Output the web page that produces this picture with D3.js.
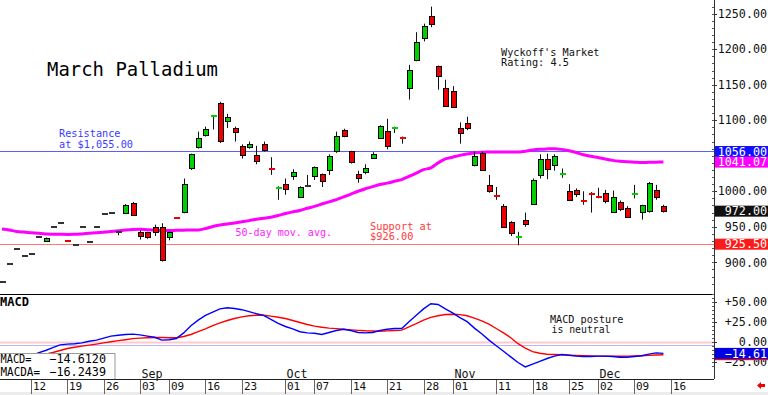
<!DOCTYPE html>
<html>
<head>
<meta charset="utf-8">
<script src="https://cdn.jsdelivr.net/npm/d3@7"></script>
<style>
  body { margin: 0; background: #fff; }
  text { font-family: "DejaVu Sans Mono", monospace; }
</style>
</head>
<body>
<svg id="chart" width="768" height="395"></svg>
<script>
// trading days (x categories), last 5 are empty room on the right
var dates = [
  "08-06","08-07","08-08","08-09",
  "08-12","08-13","08-14","08-15","08-16",
  "08-19","08-20","08-21","08-22","08-23",
  "08-26","08-27","08-28","08-29","08-30",
  "09-03","09-04","09-05","09-06",
  "09-09","09-10","09-11","09-12","09-13",
  "09-16","09-17","09-18","09-19","09-20",
  "09-23","09-24","09-25","09-26","09-27",
  "09-30","10-01","10-02","10-03","10-04",
  "10-07","10-08","10-09","10-10","10-11",
  "10-14","10-15","10-16","10-17","10-18",
  "10-21","10-22","10-23","10-24","10-25",
  "10-28","10-29","10-30","10-31","11-01",
  "11-04","11-05","11-06","11-07","11-08",
  "11-11","11-12","11-13","11-14","11-15",
  "11-18","11-19","11-20","11-21","11-22",
  "11-25","11-26","11-27","11-29",
  "12-02","12-03","12-04","12-05","12-06",
  "12-09","12-10","12-11","12-12","12-13",
  "12-16","12-17","12-18","12-19","12-20"
];

// daily prices, Aug 06 .. Dec 13
var opens = [
  872, 897.5, 919, 909, 912, 936, 929.5, 949, 955, 931,
  924, 949, 928.5, 950, 967.5, 969, 943, 969, 984, 943,
  942, 950, 950, 935, 963, 971, 1032, 1063, 1079, 1106,
  1124, 1098, 1089, 1064, 1063, 1051, 1066, 1032, 1004, 1010,
  1022, 992, 1007, 1022, 1024, 1029, 1057, 1086, 1056, 1025,
  1027, 1047, 1075, 1085, 1088, 1076, 1145, 1184, 1216, 1247,
  1176, 1145, 1141, 1089, 1096, 1038, 1054, 1009, 994, 979,
  957, 934, 959, 982, 1022, 1046, 1037, 1023, 1001, 1002,
  988, 998, 993, 998, 971, 985, 977, 995, 970, 971,
  1002, 979
];
var highs = [
  872, 897.5, 919, 909, 912, 936, 935, 949, 955, 931,
  924, 949, 928.5, 950, 967.5, 969, 943, 982, 985, 945,
  943, 953, 955, 943, 963.5, 1018, 1053, 1084, 1091, 1107,
  1126, 1109, 1091, 1066, 1070, 1064, 1070, 1048, 1007, 1018,
  1031, 1007, 1023, 1035, 1025, 1052, 1084, 1088, 1057, 1029,
  1038, 1055, 1093, 1102, 1091, 1077, 1178, 1224, 1236, 1260,
  1177, 1157, 1148, 1097, 1105, 1056, 1056, 1023, 1006, 982,
  958, 943, 970, 1018, 1052, 1053, 1052, 1032, 1010, 1004,
  1000, 999, 1005, 1002, 1001, 987, 979, 1009, 981, 1013,
  1009, 981
];
var lows = [
  872, 897.5, 919, 909, 912, 936, 929, 949, 955, 930,
  924, 949, 928.5, 950, 967.5, 969, 938, 968, 966, 932,
  933, 937, 901, 931, 962, 969, 1030, 1060, 1077, 1087,
  1068, 1089, 1070, 1046, 1060, 1038, 1056, 1023, 988, 995,
  1016, 991, 1006, 1016, 1006, 1023, 1054, 1076, 1039, 1012,
  1024, 1046, 1074, 1059, 1082, 1067, 1129, 1183, 1211, 1231,
  1143, 1120, 1118, 1067, 1086, 1035, 1029, 998, 988, 949,
  937, 924, 950, 981, 1018, 1017, 1029, 1019, 987, 992,
  981, 970, 990, 983, 970, 972, 963, 990, 960, 970,
  988, 970
];
var closes = [
  872, 897.5, 919, 909, 912, 936, 934, 949, 955, 930,
  924, 949, 928.5, 950, 967.5, 969, 943, 980.5, 966.5, 937.5,
  935, 943, 904, 942, 962, 1010, 1052, 1075, 1087, 1107,
  1071, 1104, 1084, 1051, 1067, 1043, 1058, 1030, 1006, 1003,
  1027, 1006, 1007, 1034, 1014, 1049, 1078, 1078, 1040, 1020,
  1033, 1053, 1092, 1064, 1090, 1074, 1171, 1210, 1233, 1236,
  1162, 1120, 1119, 1082, 1089, 1050, 1030, 1001, 992, 950,
  941, 936, 954, 1016, 1045, 1032, 1050, 1025, 989, 996,
  986, 995, 992, 987, 992, 975, 965, 997, 980, 1011,
  992, 972
];
var ma50 = [
  947, 945.5, 943.5, 942.5, 941.7, 940.8, 939.8, 939.5, 939.4, 939.3,
  939.4, 940, 940.8, 941.5, 942.3, 943.2, 944.3, 945.5, 946.3, 946.5,
  946, 945.5, 944.8, 944.8, 945, 945.2, 945.5, 945.6, 947.5, 950.5,
  952.5, 954, 955.2, 957, 958.7, 960.5, 962, 963.5, 966, 968.6,
  971, 973, 976, 978.8, 982, 985, 988.3, 992, 996, 1000,
  1003.5, 1006.5, 1009.5, 1011.5, 1014, 1016.5, 1021, 1025.5, 1030.5, 1033,
  1040, 1045.5, 1048, 1050.5, 1052.6, 1054, 1055, 1055.2, 1055.3, 1055.3,
  1055.2, 1055.2, 1056.5, 1058, 1059, 1059.6, 1060, 1059, 1057, 1054.5,
  1051.5, 1049.2, 1047.5, 1045.5, 1043.5, 1042.3, 1041.5, 1041, 1040.5, 1040.8,
  1041, 1041.07
];
var macd = [
  -32, -28, -24, -21, -18, -14, -11, -7.5, -4, -3,
  -2.5, -1.5, 0.5, 2, 4.5, 7, 8, 9, 9.5, 8.5,
  7, 5.5, 2, 2.5, 4, 11, 20, 27, 33, 37,
  41, 42.5, 41.5, 40, 37.5, 35, 33, 28, 23, 19,
  16, 12.5, 11, 10.5, 9, 11.5, 14, 15.5, 14, 11.5,
  11, 11.5, 14, 15.5, 16.5, 16.5, 25, 33, 41, 47.5,
  46.5, 41, 36, 30, 25, 17, 10, 2, -5, -12,
  -19, -26, -31.5, -28, -24.5, -21, -18, -16, -17, -18,
  -18.5, -18.5, -18, -18, -18.5, -19.5, -19.5, -18.5, -17.5, -15.5,
  -14, -14.612
];
var signal = [
  -30, -27, -24, -21.5, -19, -17, -15.5, -13.5, -11, -8.5,
  -7, -5.5, -4.3, -3, -1.5, 0, 1.3, 2.5, 3.8, 4.5,
  5, 5.3, 5.2, 5, 5, 6.5, 9, 12.5, 16, 20,
  23.5, 26.5, 29, 31, 32.5, 33, 33, 32, 30.5, 29,
  26.5, 24, 21.5, 19.5, 18, 17, 16.3, 15.5, 14.8, 14.2,
  13.6, 13.3, 13.1, 13.5, 14, 14.5, 18.5, 22.5, 27, 30.5,
  32.5, 34, 34.4, 33.8, 32.4, 29.5, 26, 22, 16.5, 11,
  5, -2.5, -8, -12.5, -14.5, -15.6, -16, -16.4, -16.8, -17.2,
  -17.5, -17.8, -18, -18.1, -18.1, -18.1, -18, -17.8, -17.5, -17.1,
  -16.7, -16.2439
];

var resistanceLevel = 1056;
var supportLevel = 925.5;

var priceTicks = [900, 950, 1000, 1050, 1100, 1150, 1200, 1250];
var macdTicks = [-25, 0, 25, 50];
var tickDates = ["08-12","08-19","08-26","09-03","09-09","09-16","09-23","10-01","10-07",
                 "10-14","10-21","10-28","11-01","11-11","11-18","11-25","12-02","12-09","12-16"];
var tickLabels = ["12","19","26","03","09","16","23","01","07",
                  "14","21","28","01","11","18","25","02","09","16"];
var monthDates = ["09-03","10-01","11-01","12-02"];
var monthNames = ["Sep","Oct","Nov","Dec"];

var svg = d3.select("#chart");
var plotRight = 714;

// scales
var x = d3.scalePoint().domain(dates).range([1.92, 699.77]);
var y = d3.scaleLinear().domain([900, 1250]).range([262.3, 13.7]);
var yM = d3.scaleLinear().domain([-25, 50]).range([361.7, 301.7]);

var defs = svg.append("defs");
defs.append("clipPath").attr("id", "clipP").append("rect")
    .attr("x", 0).attr("y", 0).attr("width", plotRight).attr("height", 294);
defs.append("clipPath").attr("id", "clipM").append("rect")
    .attr("x", 0).attr("y", 295).attr("width", plotRight).attr("height", 84);

svg.append("rect").attr("x", 0).attr("y", 392).attr("width", 768).attr("height", 3).attr("fill", "#ececec");

var bars = closes.map(function (c, i) {
    return { date: dates[i], o: opens[i], h: highs[i], l: lows[i], c: c, ma: ma50[i], m: macd[i], s: signal[i] };
});

// ---------- price panel ----------
var gp = svg.append("g").attr("clip-path", "url(#clipP)");

function hline(g, v, scale, color, w) {
    var yy = Math.round(scale(v)) + 0.5;
    g.append("line").attr("x1", 0).attr("x2", plotRight).attr("y1", yy).attr("y2", yy)
        .attr("stroke", color).attr("stroke-width", w);
}
hline(gp, resistanceLevel, y, "#5c5cff", 1);
hline(gp, supportLevel, y, "#ff7878", 1);

gp.append("path").datum(bars)
    .attr("fill", "none").attr("stroke", "#ff00ff").attr("stroke-width", 3)
    .attr("d", d3.line().x(function (d) { return x(d.date); }).y(function (d) { return y(d.ma); })
        .curve(d3.curveMonotoneX));

function cx(d) { return Math.round(x(d.date)); }
function barColor(d) { return d.c > d.o ? "#00d000" : (d.c < d.o ? "#ee0000" : "#333"); }

gp.selectAll("line.wick").data(bars.filter(function (d) { return d.h > d.l; }))
    .enter().append("line").attr("class", "wick")
    .attr("x1", function (d) { return cx(d) + 0.5; }).attr("x2", function (d) { return cx(d) + 0.5; })
    .attr("y1", function (d) { return y(d.h); }).attr("y2", function (d) { return y(d.l); })
    .attr("stroke", "#111").attr("stroke-width", 1);

gp.selectAll("rect.body").data(bars).enter().append("rect").attr("class", "body")
    .each(function (d) {
        var top = y(Math.max(d.o, d.c)), bot = y(Math.min(d.o, d.c));
        var r = d3.select(this).attr("fill", barColor(d));
        if (bot - top < 2.5) {
            r.attr("x", cx(d) - 2).attr("y", Math.round((top + bot) / 2) - 1)
             .attr("width", 6).attr("height", 2);
        } else {
            r.attr("x", cx(d) - 2 + 0.5).attr("y", Math.round(top) + 0.5)
             .attr("width", 5).attr("height", Math.round(bot - top))
             .attr("stroke", "#000").attr("stroke-width", 1);
        }
    });

// annotations
function label(t, xx, yy, size, color, len) {
    var el = svg.append("text").attr("x", xx).attr("y", yy).attr("font-size", size)
        .attr("fill", color).text(t);
    if (len) el.attr("textLength", len).attr("lengthAdjust", "spacingAndGlyphs");
    return el;
}
label("March Palladium", 47, 76, 19, "#000", 171);
label("Resistance", 59, 137, 10.2, "#3a3aff", 61.5);
label("at $1,055.00", 59, 147.5, 10.2, "#3a3aff", 74);
label("50-day mov. avg.", 235.5, 235.5, 10.2, "#ff22ff", 96.5);
label("Support at", 370, 230, 10.2, "#ff3a3a", 62);
label("$926.00", 370, 240, 10.2, "#ff3a3a", 43.5);
label("Wyckoff's Market", 501, 55.5, 10.2, "#111", 98.5);
label("Rating: 4.5", 501, 66, 10.2, "#111", 68);

// ---------- MACD panel ----------
var gm = svg.append("g").attr("clip-path", "url(#clipM)");
hline(gm, 0, yM, "#ffcaca", 2);
hline(gm, -4.5, yM, "#b4b4ff", 1);

gm.append("path").datum(bars)
    .attr("fill", "none").attr("stroke", "#ff0000").attr("stroke-width", 1.4)
    .attr("d", d3.line().x(function (d) { return x(d.date); }).y(function (d) { return yM(d.s); }));
gm.append("path").datum(bars)
    .attr("fill", "none").attr("stroke", "#0000ff").attr("stroke-width", 1.4)
    .attr("d", d3.line().x(function (d) { return x(d.date); }).y(function (d) { return yM(d.m); }));

svg.append("text").attr("x", 0).attr("y", 305.5).attr("font-size", 12).attr("font-weight", "bold")
    .attr("fill", "#000").text("MACD");
label("MACD posture", 550, 323.3, 10.2, "#111", 73.5);
label("is neutral", 551.5, 333.3, 10.2, "#111", 59);

// month labels inside the MACD panel
monthNames.forEach(function (m, i) {
    label(m, Math.round(x(monthDates[i])) + 1.5, 377.5, 11.7, "#111");
});

// MACD value box
svg.append("rect").attr("x", -1).attr("y", 353.5).attr("width", 116).attr("height", 26)
    .attr("fill", "#fff").attr("stroke", "#999");
var f4 = d3.format(".4f");
label("MACD=", 0.5, 363.2, 11.7, "#000", 31);
label(f4(macd[macd.length - 1]), 49.3, 363.2, 11.7, "#000", 56.7);
label("MACDA=", 0.5, 376.3, 11.7, "#000", 39.5);
label(f4(signal[signal.length - 1]), 49.3, 376.3, 11.7, "#000", 56.7);

// panel borders
svg.append("line").attr("x1", 0).attr("x2", plotRight).attr("y1", 294.5).attr("y2", 294.5).attr("stroke", "#000");
svg.append("line").attr("x1", 0).attr("x2", plotRight).attr("y1", 379.5).attr("y2", 379.5).attr("stroke", "#222");
svg.append("line").attr("x1", plotRight + 0.5).attr("x2", plotRight + 0.5).attr("y1", 0).attr("y2", 379)
    .attr("stroke", "#333");

// ---------- right axes ----------
var minor = d3.range(870, 1271, 10);
svg.selectAll("line.pminor").data(minor).enter().append("line")
    .attr("x1", plotRight - 2).attr("x2", plotRight)
    .attr("y1", function (d) { return Math.round(y(d)) + 0.5; })
    .attr("y2", function (d) { return Math.round(y(d)) + 0.5; })
    .attr("stroke", "#555");
var mminor = d3.range(-30, 61, 5);
svg.selectAll("line.mminor").data(mminor).enter().append("line")
    .attr("x1", plotRight - 2).attr("x2", plotRight)
    .attr("y1", function (d) { return Math.round(yM(d)) + 0.5; })
    .attr("y2", function (d) { return Math.round(yM(d)) + 0.5; })
    .attr("stroke", "#555");

var f2 = d3.format(".2f");
priceTicks.forEach(function (v) {
    var yy = Math.round(y(v)) + 0.5;
    svg.append("line").attr("x1", plotRight).attr("x2", plotRight + 3).attr("y1", yy).attr("y2", yy).attr("stroke", "#333");
    svg.append("text").attr("x", 767).attr("y", y(v) + 4.2).attr("font-size", 11.7)
        .attr("text-anchor", "end").attr("fill", "#111").text(f2(v));
});
var fs = d3.format("+.2f");
macdTicks.forEach(function (v) {
    var yy = Math.round(yM(v)) + 0.5;
    svg.append("line").attr("x1", plotRight).attr("x2", plotRight + 3).attr("y1", yy).attr("y2", yy).attr("stroke", "#333");
    svg.append("text").attr("x", 767).attr("y", yM(v) + 4.2).attr("font-size", 11.7)
        .attr("text-anchor", "end").attr("fill", "#111").text(v === 0 ? "0.00" : fs(v));
});

function tag(v, scale, color, txt) {
    var yy = scale(v);
    svg.append("rect").attr("x", plotRight + 1).attr("y", yy - 5.5).attr("width", 53).attr("height", 11)
        .attr("fill", color);
    if (txt) {
        svg.append("text").attr("x", 767).attr("y", yy + 4.2).attr("font-size", 11.7)
            .attr("text-anchor", "end").attr("fill", "#fff").text(txt);
    }
}
var last = closes.length - 1;
tag(resistanceLevel, y, "#1010ff", f2(resistanceLevel));
tag(ma50[last], y, "#ff00ff", f2(ma50[last]));
tag(closes[last], y, "#111", f2(closes[last]));
tag(supportLevel, y, "#ff1a1a", f2(supportLevel));
// signal tag sits under the MACD tag, only its red edge shows
tag(signal[last], yM, "#ff0000", null);
tag(macd[last], yM, "#0000e0", f2(macd[last]));

// ---------- bottom date axis ----------
tickDates.forEach(function (dt, i) {
    var xx = Math.round(x(dt)) + 0.5;
    svg.append("line").attr("x1", xx).attr("x2", xx).attr("y1", 380).attr("y2", 394)
        .attr("stroke", "#666");
    label(tickLabels[i], xx + 1.5, 389.5, 11, "#111");
});

// little red arrow bottom right
svg.append("path").attr("d", "M757,385.5 L761,382 L761,384 L765,384 L765,387 L761,387 L761,389 Z")
    .attr("fill", "#ee0000");
</script>
</body>
</html>
